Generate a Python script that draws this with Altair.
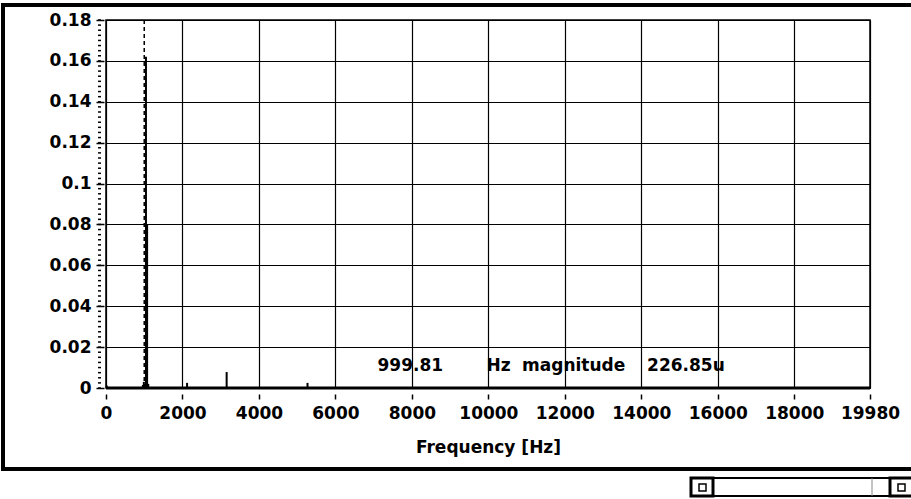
import altair as alt
import pandas as pd

# ---- data ----
freq_hz = [20, 965, 990, 1045, 1075, 1105, 2120, 3155, 5270]
magnitude = [0.0012, 0.0015, 0.003, 0.162, 0.080, 0.002, 0.0025, 0.0078, 0.0025]

x_ticks = [0, 2000, 4000, 6000, 8000, 10000, 12000, 14000, 16000, 18000, 19980]
y_ticks = [0, 0.02, 0.04, 0.06, 0.08, 0.1, 0.12, 0.14, 0.16, 0.18]
y_minor = [round(i * 0.0025, 4) for i in range(73)]

cursor_hz = [999.81]
annot_x = [7100, 9950, 10880, 14150]
annot_y = [0.0108, 0.0108, 0.0108, 0.0108]
annot_text = ["999.81", "Hz", "magnitude", "226.85u"]

W, H = 764, 368
LEFT, TOP = 106, 20
FONT = "DejaVu Sans"

x_scale = alt.Scale(domain=[0, 19980], nice=False, zero=False)
y_scale = alt.Scale(domain=[0, 0.18], nice=False)

df = pd.DataFrame({"freq": freq_hz, "mag": magnitude})

stems = alt.Chart(df).mark_rule(color="black", strokeWidth=2).encode(
    x=alt.X("freq:Q", scale=x_scale,
            axis=alt.Axis(values=x_ticks, format="d", title="Frequency [Hz]",
                          grid=True, gridColor="black", gridOpacity=1, gridWidth=1.2,
                          domain=False, tickSize=5, offset=6, tickColor="black", tickWidth=1.5,
                          labelPadding=6, labelFont=FONT, labelFontSize=17, labelFontWeight="bold",
                          labelColor="black", labelOverlap=False, labelFlush=False,
                          titleFont=FONT, titleFontSize=17, titleFontWeight="bold",
                          titleColor="black", titlePadding=18)),
    y=alt.Y("mag:Q", scale=y_scale,
            axis=alt.Axis(values=y_ticks, format="~g", title=None,
                          grid=True, gridColor="black", gridOpacity=1, gridWidth=1.2,
                          domain=False, tickSize=8, offset=2, tickColor="black", tickWidth=1.5,
                          labelPadding=5, labelFont=FONT, labelFontSize=17, labelFontWeight="bold",
                          labelColor="black", labelOverlap=False)),
    y2=alt.datum(0),
)

minor = alt.Chart(pd.DataFrame({"mag": y_minor})).mark_rule(color="black", strokeWidth=1.5).encode(
    y=alt.Y("mag:Q", scale=y_scale),
    x=alt.value(-8), x2=alt.value(-5),
)

cursor = alt.Chart(pd.DataFrame({"freq": cursor_hz})).mark_rule(
    color="black", strokeWidth=1.5, strokeDash=[4, 3]).encode(x=alt.X("freq:Q", scale=x_scale))

baseline = alt.Chart(pd.DataFrame({"mag": [0]})).mark_rule(color="black", strokeWidth=3).encode(
    y=alt.Y("mag:Q", scale=y_scale))

annot = alt.Chart(pd.DataFrame({"freq": annot_x, "mag": annot_y, "t": annot_text})).mark_text(
    align="left", baseline="middle", font=FONT, fontSize=17, fontWeight="bold", color="black"
).encode(x=alt.X("freq:Q", scale=x_scale), y=alt.Y("mag:Q", scale=y_scale), text="t:N")

dummy = pd.DataFrame({"a": [0]})
frame = alt.Chart(dummy).mark_rect(filled=False, stroke="black", strokeWidth=4).encode(
    x=alt.value(3 - LEFT), x2=alt.value(916 - LEFT), y=alt.value(5 - TOP), y2=alt.value(469 - TOP))

sb_outer = alt.Chart(dummy).mark_rect(filled=False, stroke="black", strokeWidth=2).encode(
    x=alt.value(691 - LEFT), x2=alt.value(914 - LEFT), y=alt.value(478 - TOP), y2=alt.value(496 - TOP))
sb_lbtn = alt.Chart(dummy).mark_rect(filled=False, stroke="black", strokeWidth=3).encode(
    x=alt.value(691 - LEFT), x2=alt.value(713 - LEFT), y=alt.value(478 - TOP), y2=alt.value(496 - TOP))
sb_rbtn = alt.Chart(dummy).mark_rect(filled=False, stroke="black", strokeWidth=3).encode(
    x=alt.value(890 - LEFT), x2=alt.value(914 - LEFT), y=alt.value(478 - TOP), y2=alt.value(496 - TOP))
sb_thumb = alt.Chart(dummy).mark_rule(stroke="#888", strokeWidth=1).encode(
    x=alt.value(872 - LEFT), y=alt.value(478 - TOP), y2=alt.value(496 - TOP))
sb_sq1 = alt.Chart(dummy).mark_rect(filled=False, stroke="black", strokeWidth=1.5).encode(
    x=alt.value(699 - LEFT), x2=alt.value(706 - LEFT), y=alt.value(484 - TOP), y2=alt.value(491 - TOP))
sb_sq2 = alt.Chart(dummy).mark_rect(filled=False, stroke="black", strokeWidth=1.5).encode(
    x=alt.value(898 - LEFT), x2=alt.value(905 - LEFT), y=alt.value(484 - TOP), y2=alt.value(491 - TOP))

chart = alt.layer(
    stems, minor, cursor, baseline, annot,
    frame, sb_outer, sb_lbtn, sb_rbtn, sb_thumb, sb_sq1, sb_sq2,
).properties(
    width=W, height=H,
    autosize=alt.AutoSizeParams(type="none"),
    padding={"left": LEFT, "top": TOP, "right": 911 - LEFT - W, "bottom": 499 - TOP - H},
    background="white",
).configure_view(stroke="black", strokeWidth=1.5)

chart.save("out.html", embed_options={"renderer": "svg", "actions": False})
